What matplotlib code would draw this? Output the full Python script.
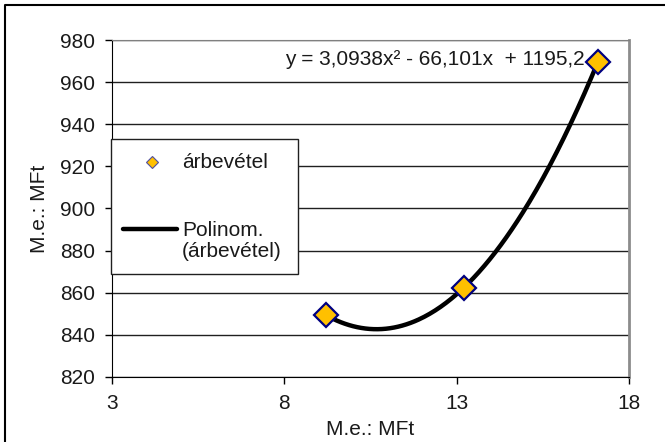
import numpy as np
from matplotlib import pyplot as plt
from matplotlib.patches import Rectangle
from matplotlib.lines import Line2D

# adatok
x_vals = [9.2, 13.2, 17.1]
y_vals = [849.4, 862.3, 969.7]
series_name = 'árbevétel'
trend_name = 'Polinom.\n(árbevétel)'
equation = 'y = 3,0938x² - 66,101x  + 1195,2'
axis_label = 'M.e.: MFt'
x_ticks = [3, 8, 13, 18]
y_ticks = [820, 840, 860, 880, 900, 920, 940, 960, 980]

plt.rcParams['font.family'] = ['Liberation Sans', 'DejaVu Sans']

fig = plt.figure(figsize=(6.65, 4.42), dpi=100)
ax = fig.add_axes([112 / 665, 65 / 442, 517 / 665, 337 / 442])

# polinomiális trendvonal (másodfokú illesztés)
coef = np.polyfit(x_vals, y_vals, 2)
xs = np.linspace(min(x_vals), max(x_vals), 200)
ax.plot(xs, np.polyval(coef, xs), color='black', lw=3.2, zorder=3,
        solid_capstyle='round')

ax.plot(x_vals, y_vals, linestyle='none', marker='D', ms=12,
        mfc='#FFC000', mec='#000080', mew=1.6, zorder=4, clip_on=False)

ax.set_xlim(3, 18)
ax.set_ylim(820, 980)
ax.set_xticks(x_ticks)
ax.set_yticks(y_ticks)
ax.yaxis.grid(True, color='#202020', lw=1)
ax.set_axisbelow(True)
ax.tick_params(labelsize=15, length=5, width=1, pad=7.5, colors='black',
               labelcolor='#1a1a1a')
ax.spines['top'].set_color('#808080')
ax.spines['right'].set_color('#8c8c8c')
ax.spines['right'].set_linewidth(2)
for s in ['left', 'bottom']:
    ax.spines[s].set_color('black')

ax.set_xlabel(axis_label, fontsize=15, labelpad=4.5, color='#1a1a1a')
ax.set_ylabel(axis_label, fontsize=15, color='#1a1a1a')
ax.yaxis.set_label_coords(-0.122, 0.5)

ax.text(0.915, 0.941, equation, transform=ax.transAxes, ha='right',
        va='center', fontsize=15, color='#1a1a1a', zorder=5)

# jelmagyarázat kézzel, mint az Excelben
ax.add_patch(Rectangle((-0.002, 0.306), 0.361, 0.400, transform=ax.transAxes,
                       facecolor='white', edgecolor='#202020', lw=1,
                       zorder=6, clip_on=False))
ax.add_line(Line2D([0.077], [0.637], transform=ax.transAxes, marker='D',
                   ms=6, mfc='#FFC000', mec='#5050a0', mew=0.8,
                   zorder=7, clip_on=False))
ax.text(0.135, 0.637, series_name, transform=ax.transAxes, fontsize=15,
        va='center', color='#1a1a1a', zorder=7)
ax.add_line(Line2D([0.021, 0.126], [0.439, 0.439], transform=ax.transAxes,
                   color='black', lw=3.2, solid_capstyle='round',
                   zorder=7, clip_on=False))
ax.text(0.135, 0.404, trend_name, transform=ax.transAxes, fontsize=15,
        va='center', linespacing=1.15, color='#1a1a1a', zorder=7)

# külső keret (bal és felső széle látszik)
fig.add_artist(Line2D([4.5 / 665, 4.5 / 665, 1.0], [0.0, 1 - 5 / 442, 1 - 5 / 442],
                      transform=fig.transFigure, color='black', lw=1.5))

plt.savefig('out.png', dpi=100)
